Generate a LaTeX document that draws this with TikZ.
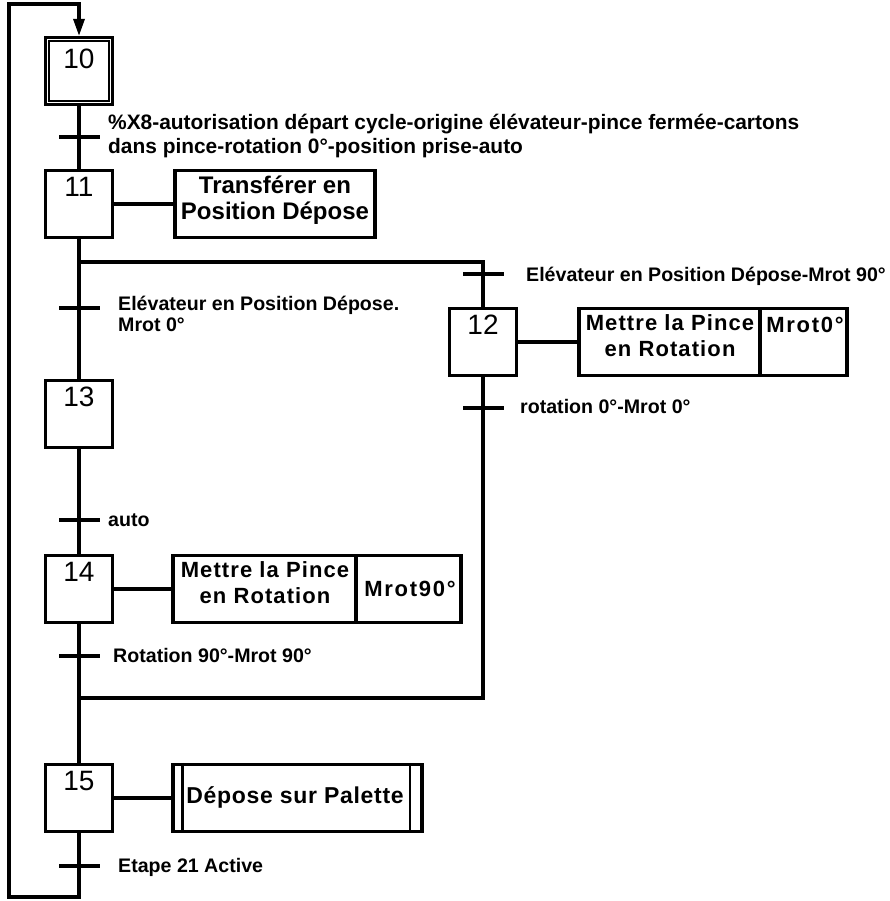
\documentclass[tikz,border=0pt]{standalone}
\usepackage{fontspec}
\setmainfont{Liberation Sans}
\newfontfamily\spacedA[LetterSpace=5]{Liberation Sans}
\newfontfamily\spacedB[LetterSpace=8]{Liberation Sans}
\newfontfamily\spacedC[LetterSpace=3]{Liberation Sans}
\usetikzlibrary{arrows.meta,calc}
\begin{document}
\begin{tikzpicture}[x=1pt,y=-1pt,
  ln/.style={line width=3.2pt},
  stepbox/.style={draw,line width=3.2pt,minimum width=67pt,minimum height=67pt,inner sep=0pt},
  num/.style={inner sep=0pt,anchor=north,font=\fontsize{28}{28}\selectfont},
  actbox/.style={draw,line width=3.2pt,inner sep=0pt,minimum height=67pt},
  acttxt/.style={inner sep=0pt,anchor=north,align=center,font=\spacedA\bfseries\fontsize{22}{26.5}\selectfont},
  bar/.style={line width=3.2pt},
  cond/.style={inner sep=0pt,font=\bfseries\fontsize{19.6}{21}\selectfont}
  ]
\useasboundingbox (0,0) rectangle (890,901);

% steps
\node[stepbox] (s10) at (79,71) {};
\draw[line width=1.4pt] ($(s10.north west)+(5,5)$) rectangle ($(s10.south east)+(-5,-5)$);
\node[num] (n10) at ($(s10.north)+(0,13)$) {10};
\node[stepbox] (s11) at (79,204) {};
\node[num] (n11) at ($(s11.north)+(0,8)$) {11};
\node[stepbox] (s12) at (483,342) {};
\node[num] (n12) at ($(s12.north)+(0,8)$) {12};
\node[stepbox] (s13) at (79,414) {};
\node[num] (n13) at ($(s13.north)+(0,8)$) {13};
\node[stepbox] (s14) at (79,589) {};
\node[num] (n14) at ($(s14.north)+(0,8)$) {14};
\node[stepbox] (s15) at (79,798) {};
\node[num] (n15) at ($(s15.north)+(0,8)$) {15};

% actions
\node[actbox,minimum width=200pt] (a11) at (275,204) {};
\node[inner sep=0pt,anchor=north,align=center,font=\bfseries\fontsize{24}{26}\selectfont] (a11t) at (275,176) {Transférer en\\Position Dépose};
\node[actbox,minimum width=181pt] (a12) at (669.5,342) {};
\node[actbox,minimum width=87pt] (m12) at (803.5,342) {};
\node[acttxt] (a12t) at (670,314) {Mettre la Pince\\en Rotation};
\node[inner sep=0pt,anchor=base,font=\spacedB\bfseries\fontsize{22}{24}\selectfont] (m12t) at (805,332) {Mrot0°};
\node[actbox,minimum width=183pt] (a14) at (264.5,589) {};
\node[actbox,minimum width=105pt] (m14) at (408.5,589) {};
\node[acttxt] (a14t) at (265,561) {Mettre la Pince\\en Rotation};
\node[inner sep=0pt,anchor=base,font=\spacedB\bfseries\fontsize{22}{24}\selectfont] (m14t) at (410,596) {Mrot90°};
\node[actbox,minimum width=249pt] (a15) at (297.5,798) {};
\draw[line width=2.2pt] ($(a15.north west)+(11,0)$) -- ($(a15.south west)+(11,0)$);
\draw[line width=2.2pt] ($(a15.north east)+(-14,0)$) -- ($(a15.south east)+(-14,0)$);
\node[inner sep=0pt,anchor=base,font=\spacedC\bfseries\fontsize{23}{25}\selectfont] (a15t) at (295,803) {Dépose sur Palette};

\draw[ln] (s11.east) -- (a11.west);
\draw[ln] (s12.east) -- (a12.west);
\draw[ln] (s14.east) -- (a14.west);
\draw[ln] (s15.east) -- (a15.west);

% links
\coordinate (d1) at (79,262);
\coordinate (d2) at (483,262);
\coordinate (j1) at (79,698);
\coordinate (j2) at (483,698);
\coordinate (l1) at (79,897);
\coordinate (l2) at (9,897);
\coordinate (l3) at (9,4);
\coordinate (l4) at (79,4);
\draw[ln] (s10.south) -- (s11.north);
\draw[ln] (s11.south) -- (s13.north);
\draw[ln] (d1) -- (d2) -- (s12.north);
\draw[ln] (s12.south) -- (j2) -- (j1);
\draw[ln] (s13.south) -- (s14.north);
\draw[ln] (s14.south) -- (s15.north);
\draw[ln,-{Triangle[width=11pt,length=17pt]}] (s15.south) -- (l1) -- (l2) -- (l3) -- (l4) -- (s10.north);

% transitions
\coordinate (t1) at (79,137);
\coordinate (t2) at (483,274);
\coordinate (t3) at (79,308);
\coordinate (t4) at (483,408);
\coordinate (t5) at (79,520);
\coordinate (t6) at (79,656);
\coordinate (t7) at (79,866);
\foreach \t in {t1,t2,t3,t4,t5,t6,t7}
  \draw[bar] ($(\t)+(-20,0)$) -- ($(\t)+(21,0)$);

\node[cond,anchor=north west,align=left,font=\bfseries\fontsize{20.9}{23.5}\selectfont] (c1) at (108,114)
  {\%X8-autorisation départ cycle-origine élévateur-pince fermée-cartons\\dans pince-rotation 0°-position prise-auto};
\node[cond,anchor=base west] (c2) at (526,281) {Elévateur en Position Dépose-Mrot 90°};
\node[cond,anchor=north west,align=left] (c3) at (118,296) {Elévateur en Position Dépose.\\Mrot 0°};
\node[cond,anchor=base west] (c4) at (520,413) {rotation 0°-Mrot 0°};
\node[cond,anchor=base west] (c5) at (108,526) {auto};
\node[cond,anchor=base west] (c6) at (113,662) {Rotation 90°-Mrot 90°};
\node[cond,anchor=base west] (c7) at (118,872) {Etape 21 Active};
\end{tikzpicture}
\end{document}
